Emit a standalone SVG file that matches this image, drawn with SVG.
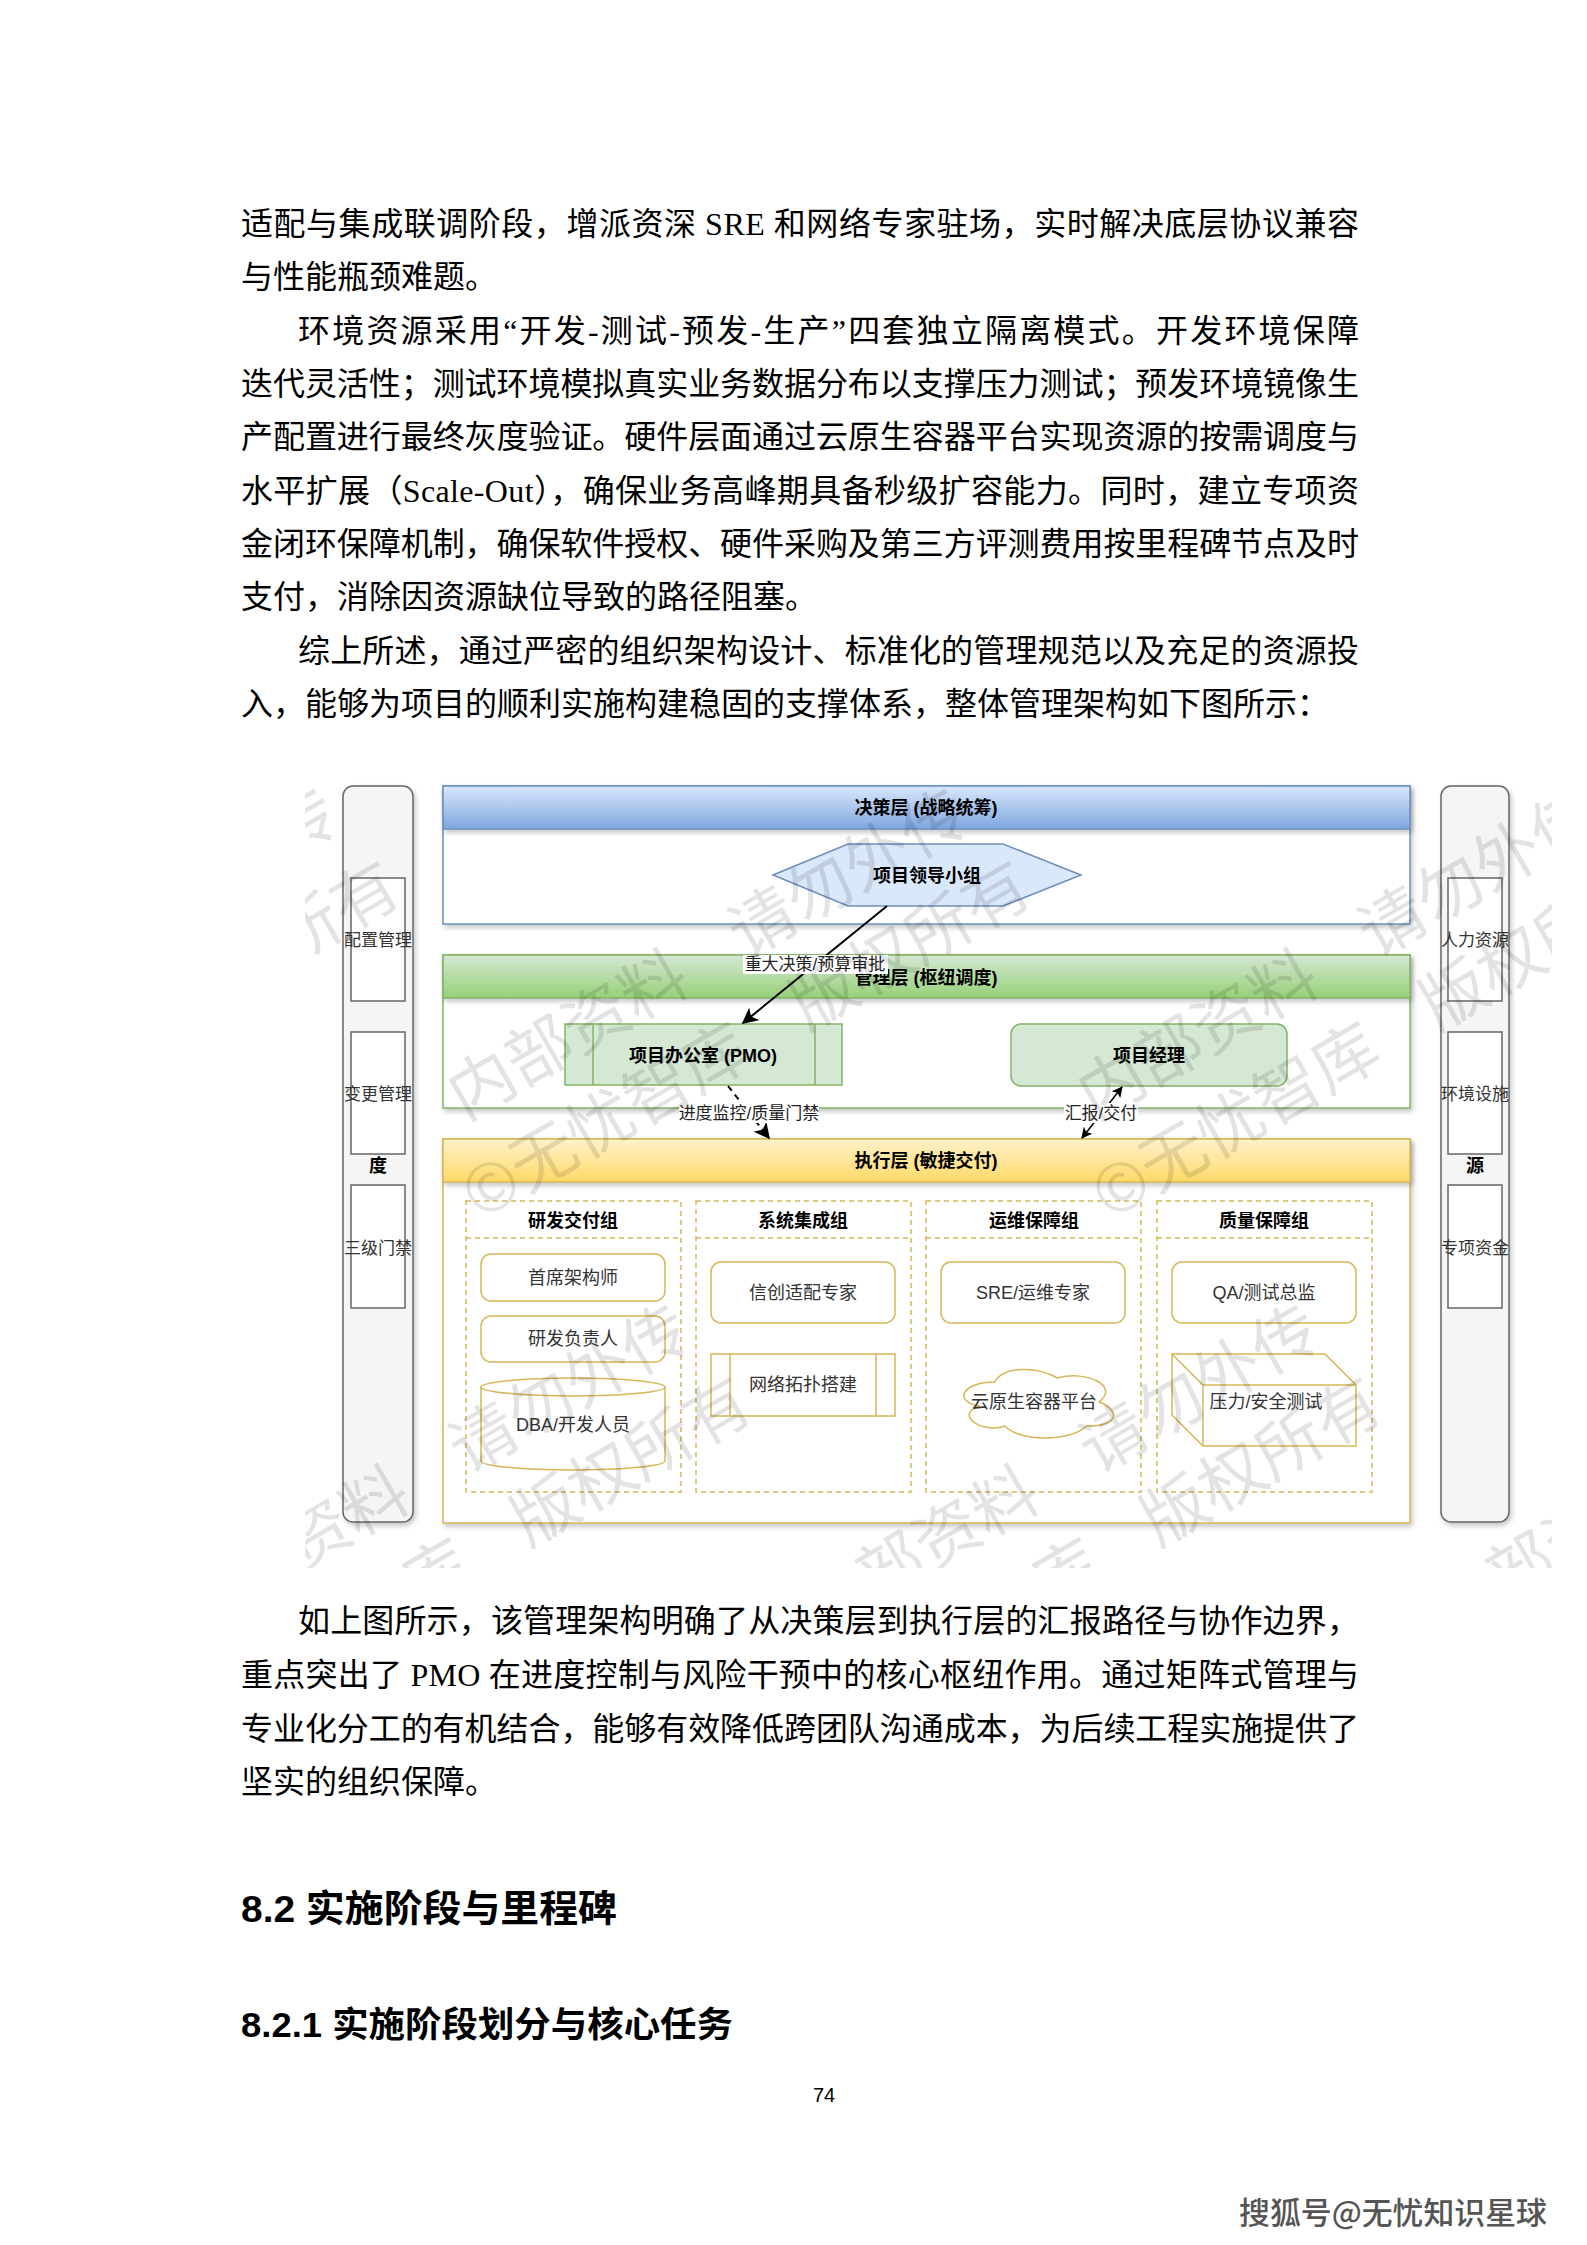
<svg xmlns="http://www.w3.org/2000/svg" width="1587" height="2245" viewBox="0 0 1587 2245">
<style>
.body{font-family:"Liberation Serif","Noto Sans CJK SC",serif;font-size:32px;fill:#000}
.h{font-family:"Liberation Sans","Noto Sans CJK SC",sans-serif;font-weight:bold;fill:#000}
.d{font-family:"Liberation Sans","Noto Sans CJK SC",sans-serif;dominant-baseline:central;text-anchor:middle}
.hdr{font-size:18px;font-weight:bold;fill:#000}
.item{font-size:18px;fill:#333}
.side{font-size:17px;fill:#333}
.lbl{font-size:17px;fill:#222}
.wm{font-family:"Noto Sans CJK SC",sans-serif;font-size:66px;fill:#000;fill-opacity:0.11}
.grp{fill:none;stroke:#d6b656;stroke-width:1.5;stroke-dasharray:5 4}
.yb{fill:#fff;stroke:#d6b656;stroke-width:1.5}
.sb{fill:#fff;stroke:#666;stroke-width:1.5}
</style>
<defs>
<linearGradient id="gBlue" x1="0" y1="0" x2="0" y2="1"><stop offset="0" stop-color="#dae8fc"/><stop offset="1" stop-color="#7ea6e0"/></linearGradient>
<linearGradient id="gGreen" x1="0" y1="0" x2="0" y2="1"><stop offset="0" stop-color="#d5e8d4"/><stop offset="1" stop-color="#97d077"/></linearGradient>
<linearGradient id="gYellow" x1="0" y1="0" x2="0" y2="1"><stop offset="0" stop-color="#fff2cc"/><stop offset="1" stop-color="#ffd966"/></linearGradient>
<filter id="sh" x="-5%" y="-5%" width="115%" height="120%"><feDropShadow dx="2" dy="3" stdDeviation="2.5" flood-color="#000" flood-opacity="0.22"/></filter>
<marker id="aL" viewBox="0 0 10 10" refX="9" refY="5" markerWidth="16" markerHeight="16" markerUnits="userSpaceOnUse" orient="auto"><path d="M0,0 L10,5 L0,10 L2.5,5 z" fill="#000"/></marker>
<marker id="aS" viewBox="0 0 10 10" refX="9" refY="5" markerWidth="11" markerHeight="11" markerUnits="userSpaceOnUse" orient="auto-start-reverse"><path d="M0,0 L10,5 L0,10 L2.5,5 z" fill="#000"/></marker>
<clipPath id="imgClip"><rect x="305" y="745" width="1247" height="823"/></clipPath>
</defs>
<rect width="1587" height="2245" fill="#fff"/>

<g id="page-text">
<text class="body" x="241" y="235" textLength="1118" lengthAdjust="spacing">适配与集成联调阶段，增派资深 SRE 和网络专家驻场，实时解决底层协议兼容</text>
<text class="body" x="241" y="288">与性能瓶颈难题。</text>
<text class="body" x="298" y="342" textLength="1061" lengthAdjust="spacing">环境资源采用“开发-测试-预发-生产”四套独立隔离模式。开发环境保障</text>
<text class="body" x="241" y="395" textLength="1118" lengthAdjust="spacing">迭代灵活性；测试环境模拟真实业务数据分布以支撑压力测试；预发环境镜像生</text>
<text class="body" x="241" y="448" textLength="1118" lengthAdjust="spacing">产配置进行最终灰度验证。硬件层面通过云原生容器平台实现资源的按需调度与</text>
<text class="body" x="241" y="502" textLength="1118" lengthAdjust="spacing">水平扩展（Scale-Out），确保业务高峰期具备秒级扩容能力。同时，建立专项资</text>
<text class="body" x="241" y="555" textLength="1118" lengthAdjust="spacing">金闭环保障机制，确保软件授权、硬件采购及第三方评测费用按里程碑节点及时</text>
<text class="body" x="241" y="608">支付，消除因资源缺位导致的路径阻塞。</text>
<text class="body" x="298" y="662" textLength="1061" lengthAdjust="spacing">综上所述，通过严密的组织架构设计、标准化的管理规范以及充足的资源投</text>
<text class="body" x="241" y="715">入，能够为项目的顺利实施构建稳固的支撑体系，整体管理架构如下图所示：</text>
<text class="body" x="298" y="1632" textLength="1061" lengthAdjust="spacing">如上图所示，该管理架构明确了从决策层到执行层的汇报路径与协作边界，</text>
<text class="body" x="241" y="1686" textLength="1118" lengthAdjust="spacing">重点突出了 PMO 在进度控制与风险干预中的核心枢纽作用。通过矩阵式管理与</text>
<text class="body" x="241" y="1740" textLength="1118" lengthAdjust="spacing">专业化分工的有机结合，能够有效降低跨团队沟通成本，为后续工程实施提供了</text>
<text class="body" x="241" y="1793">坚实的组织保障。</text>
<text class="h" x="241" y="1922" font-size="37" textLength="376" lengthAdjust="spacingAndGlyphs">8.2 实施阶段与里程碑</text>
<text class="h" x="241" y="2037" font-size="35" textLength="492" lengthAdjust="spacingAndGlyphs">8.2.1 实施阶段划分与核心任务</text>
<text x="824" y="2102" font-family="Liberation Sans Narrow, Liberation Sans, sans-serif" font-size="20" text-anchor="middle">74</text>
</g>

<g id="diagram">
<g id="side-left">
<rect x="343" y="786" width="70" height="736" rx="10" fill="#f5f5f5" stroke="#666" stroke-width="1.5" filter="url(#sh)"/>
<text class="d hdr" x="378" y="1166">度</text>
<g id="cfg-mgmt"><rect class="sb" x="351" y="878" width="54" height="123"/><text class="d side" x="378" y="940">配置管理</text></g>
<g id="chg-mgmt"><rect class="sb" x="351" y="1032" width="54" height="122"/><text class="d side" x="378" y="1094">变更管理</text></g>
<g id="gate"><rect class="sb" x="351" y="1185" width="54" height="123"/><text class="d side" x="378" y="1248">三级门禁</text></g>
</g>
<g id="side-right">
<rect x="1441" y="786" width="68" height="736" rx="10" fill="#f5f5f5" stroke="#666" stroke-width="1.5" filter="url(#sh)"/>
<text class="d hdr" x="1475" y="1166">源</text>
<g id="hr"><rect class="sb" x="1448" y="878" width="54" height="123"/><text class="d side" x="1475" y="940">人力资源</text></g>
<g id="env"><rect class="sb" x="1448" y="1032" width="54" height="122"/><text class="d side" x="1475" y="1094">环境设施</text></g>
<g id="fund"><rect class="sb" x="1448" y="1185" width="54" height="123"/><text class="d side" x="1475" y="1248">专项资金</text></g>
</g>

<g id="layer-decision">
<rect x="443" y="786" width="967" height="138" fill="#fff" stroke="#6c8ebf" stroke-width="1.5" filter="url(#sh)"/>
<rect x="443" y="786" width="967" height="43" fill="url(#gBlue)" stroke="#6c8ebf" stroke-width="1.5" filter="url(#sh)"/>
<text class="d hdr" x="926" y="808">决策层 (战略统筹)</text>
</g>
<g id="leader">
<polygon points="773,875 848,844 1003,844 1081,875 1003,906 848,906" fill="#dae8fc" stroke="#6c8ebf" stroke-width="1.5"/>
<text class="d hdr" x="927" y="876">项目领导小组</text>
</g>

<g id="layer-management">
<rect x="443" y="955" width="967" height="153" fill="#fff" stroke="#82b366" stroke-width="1.5" filter="url(#sh)"/>
<rect x="443" y="955" width="967" height="43" fill="url(#gGreen)" stroke="#82b366" stroke-width="1.5" filter="url(#sh)"/>
<text class="d hdr" x="926" y="978">管理层 (枢纽调度)</text>
</g>
<g id="pmo">
<rect x="565" y="1024" width="277" height="61" fill="#d5e8d4" stroke="#82b366" stroke-width="1.5"/>
<line x1="593" y1="1024" x2="593" y2="1085" stroke="#82b366" stroke-width="1.5"/>
<line x1="815" y1="1024" x2="815" y2="1085" stroke="#82b366" stroke-width="1.5"/>
<text class="d hdr" x="703" y="1056">项目办公室 (PMO)</text>
</g>
<g id="pm">
<rect x="1011" y="1024" width="276" height="62" rx="10" fill="#d5e8d4" stroke="#82b366" stroke-width="1.5"/>
<text class="d hdr" x="1149" y="1056">项目经理</text>
</g>

<g id="layer-execution">
<rect x="443" y="1139" width="967" height="384" fill="#fff" stroke="#d6b656" stroke-width="1.5" filter="url(#sh)"/>
<rect x="443" y="1139" width="967" height="43" fill="url(#gYellow)" stroke="#d6b656" stroke-width="1.5" filter="url(#sh)"/>
<text class="d hdr" x="926" y="1161">执行层 (敏捷交付)</text>
</g>

<g id="grp-dev">
<rect class="grp" x="466" y="1201" width="215" height="291"/>
<line class="grp" x1="466" y1="1238" x2="681" y2="1238"/>
<text class="d hdr" x="573" y="1221">研发交付组</text>
<g id="chief-arch"><rect class="yb" x="481" y="1254" width="184" height="47" rx="10"/><text class="d item" x="573" y="1278">首席架构师</text></g>
<g id="dev-lead"><rect class="yb" x="481" y="1316" width="184" height="46" rx="10"/><text class="d item" x="573" y="1339">研发负责人</text></g>
<g id="dba"><path class="yb" d="M481,1387 A92,9 0 0 1 665,1387 L665,1461 A92,9 0 0 1 481,1461 Z"/><path d="M481,1387 A92,9 0 0 0 665,1387" fill="none" stroke="#d6b656" stroke-width="1.5"/><text class="d item" x="573" y="1425">DBA/开发人员</text></g>
</g>

<g id="grp-int">
<rect class="grp" x="696" y="1201" width="215" height="291"/>
<line class="grp" x1="696" y1="1238" x2="911" y2="1238"/>
<text class="d hdr" x="803" y="1221">系统集成组</text>
<g id="xc"><rect class="yb" x="711" y="1262" width="184" height="61" rx="10"/><text class="d item" x="803" y="1293">信创适配专家</text></g>
<g id="net"><rect class="yb" x="711" y="1354" width="184" height="62"/><line x1="730" y1="1354" x2="730" y2="1416" stroke="#d6b656" stroke-width="1.5"/><line x1="876" y1="1354" x2="876" y2="1416" stroke="#d6b656" stroke-width="1.5"/><text class="d item" x="803" y="1385">网络拓扑搭建</text></g>
</g>

<g id="grp-ops">
<rect class="grp" x="926" y="1201" width="215" height="291"/>
<line class="grp" x1="926" y1="1238" x2="1141" y2="1238"/>
<text class="d hdr" x="1034" y="1221">运维保障组</text>
<g id="sre"><rect class="yb" x="941" y="1262" width="184" height="61" rx="10"/><text class="d item" x="1033" y="1293">SRE/运维专家</text></g>
<g id="cloud"><path class="yb" d="M994.75,1382 C961.35,1382 953,1402 979.7,1406 C953,1414.8 983,1434 1004.8,1426 C1019.8,1442 1069.9,1442 1086.6,1426 C1120,1426 1120,1410 1099.1,1402 C1120,1386 1086.6,1370 1057.4,1378 C1036.5,1366 1003.1,1366 994.75,1382 Z"/><text class="d item" x="1034" y="1402">云原生容器平台</text></g>
</g>

<g id="grp-qa">
<rect class="grp" x="1157" y="1201" width="215" height="291"/>
<line class="grp" x1="1157" y1="1238" x2="1372" y2="1238"/>
<text class="d hdr" x="1264" y="1221">质量保障组</text>
<g id="qa"><rect class="yb" x="1172" y="1262" width="184" height="61" rx="10"/><text class="d item" x="1264" y="1293">QA/测试总监</text></g>
<g id="stress"><path class="yb" d="M1172,1354 L1325,1354 L1356,1385 L1356,1446 L1203,1446 L1172,1415 Z"/><path d="M1172,1354 L1203,1385 L1356,1385 M1203,1385 L1203,1446" fill="none" stroke="#d6b656" stroke-width="1.5"/><text class="d item" x="1266" y="1402">压力/安全测试</text></g>
</g>

<g id="connectors">
<line x1="887" y1="906" x2="743" y2="1023" stroke="#000" stroke-width="2" marker-end="url(#aL)"/>
<rect x="743" y="955" width="145" height="19" fill="#fff"/>
<text class="d lbl" x="815" y="964">重大决策/预算审批</text>
<line x1="728" y1="1086" x2="769" y2="1138" stroke="#000" stroke-width="2" stroke-dasharray="6 5" marker-end="url(#aL)"/>
<rect x="679" y="1103" width="140" height="20" fill="#fff"/>
<text class="d lbl" x="749" y="1113">进度监控/质量门禁</text>
<line x1="1082" y1="1138" x2="1122" y2="1087" stroke="#000" stroke-width="1.5" marker-start="url(#aS)" marker-end="url(#aS)"/>
<rect x="1064" y="1103" width="74" height="20" fill="#fff"/>
<text class="d lbl" x="1101" y="1113">汇报/交付</text>
</g>
</g>

<g id="watermark" clip-path="url(#imgClip)">
<text class="wm" transform="translate(-166,1121) rotate(-30)">内部资料<tspan dx="60">请勿外传</tspan></text>
<text class="wm" transform="translate(-152,1221) rotate(-30)">©无忧智库<tspan dx="60">版权所有</tspan></text>
<text class="wm" transform="translate(465,1121) rotate(-30)">内部资料<tspan dx="60">请勿外传</tspan></text>
<text class="wm" transform="translate(479,1221) rotate(-30)">©无忧智库<tspan dx="60">版权所有</tspan></text>
<text class="wm" transform="translate(1095,1121) rotate(-30)">内部资料<tspan dx="60">请勿外传</tspan></text>
<text class="wm" transform="translate(1109,1221) rotate(-30)">©无忧智库<tspan dx="60">版权所有</tspan></text>
<text class="wm" transform="translate(186,1637) rotate(-30)">内部资料<tspan dx="60">请勿外传</tspan></text>
<text class="wm" transform="translate(200,1737) rotate(-30)">©无忧智库<tspan dx="60">版权所有</tspan></text>
<text class="wm" transform="translate(816,1637) rotate(-30)">内部资料<tspan dx="60">请勿外传</tspan></text>
<text class="wm" transform="translate(830,1737) rotate(-30)">©无忧智库<tspan dx="60">版权所有</tspan></text>
<text class="wm" transform="translate(1446,1637) rotate(-30)">内部资料<tspan dx="60">请勿外传</tspan></text>
<text class="wm" transform="translate(1460,1737) rotate(-30)">©无忧智库<tspan dx="60">版权所有</tspan></text>
</g>

<text x="1239" y="2224" font-family="Noto Sans CJK SC, sans-serif" font-size="31" font-weight="500" fill="#555" stroke="#fff" stroke-width="1" paint-order="stroke" textLength="308" lengthAdjust="spacingAndGlyphs">搜狐号@无忧知识星球</text>
</svg>
